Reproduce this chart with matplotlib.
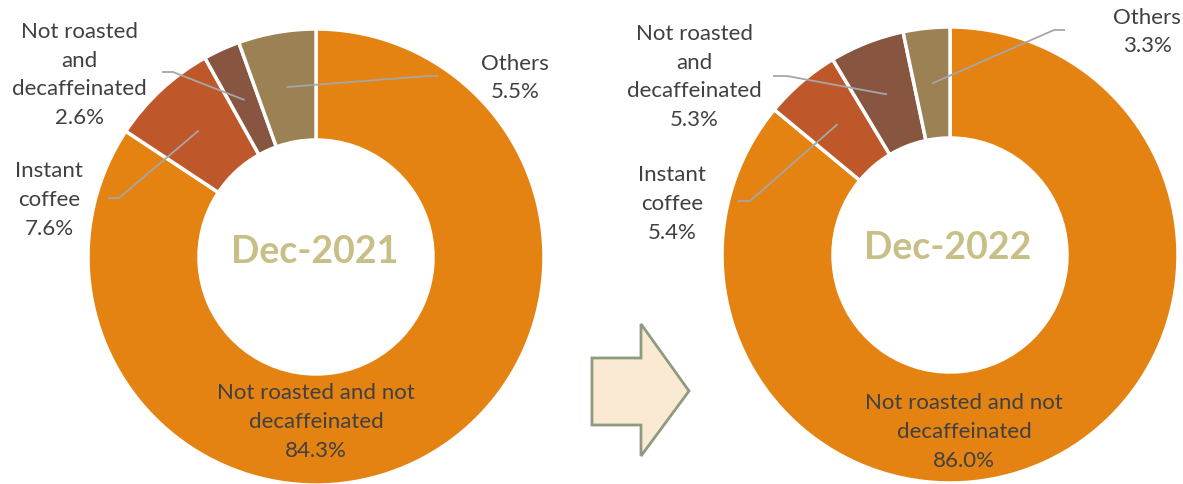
import numpy as np
import matplotlib

matplotlib.use("Agg")

import matplotlib.pyplot as plt
from matplotlib.patches import Polygon

plt.rcParams["font.family"] = ["Lato", "DejaVu Sans"]

W, H = 1183, 485

categories = ["Not roasted and not\ndecaffeinated", "Instant\ncoffee",
              "Not roasted\nand\ndecaffeinated", "Others"]
values_2021 = [84.3, 7.6, 2.6, 5.5]
values_2022 = [86.0, 5.4, 5.3, 3.3]
periods = ["Dec-2021", "Dec-2022"]

colors = ["#E48312", "#BE582B", "#875540", "#9C8155"]
text_color = "#404040"
leader_color = "#A6A6A6"
center_color = "#C8BF87"


def Y(y):
    # pixel row (from top) -> data y (from bottom)
    return H - y


fig = plt.figure(figsize=(W / 100, H / 100), dpi=100)
ax = fig.add_axes([0, 0, 1, 1])

# per chart: centre, main label centre, and for small slices (text pos, kink, line end)
layouts = [
    {
        "center": (316, 258),
        "title_pos": (315, 252),
        "main_pos": (316, 422),
        "small": [
            ((49, 200), (119, 199), (108, 199)),
            ((79, 75), (173, 73), (162, 73)),
            ((515, 78), (428, 77), (438, 77)),
        ],
    },
    {
        "center": (950, 256),
        "title_pos": (948, 248),
        "main_pos": (964, 432),
        "small": [
            ((672, 204), (750, 202), (738, 202)),
            ((694, 77), (787, 77), (773, 77)),
            ((1147, 32), (1054, 31), (1065, 31)),
        ],
    },
]

R = 228
hole = 117
fs = 16
ls = 1.55

for values, period, lay in zip([values_2021, values_2022], periods, layouts):
    cx, cy = lay["center"]
    wedges, _ = ax.pie(
        values,
        colors=colors,
        startangle=90,
        counterclock=False,
        radius=R,
        center=(cx, Y(cy)),
        wedgeprops=dict(width=R - hole, edgecolor="white", linewidth=2.5),
    )
    ax.text(lay["title_pos"][0], Y(lay["title_pos"][1]), period, ha="center", va="center",
            fontsize=27, fontweight="bold", color=center_color)
    mx, my = lay["main_pos"]
    ax.text(mx, Y(my), f"{categories[0]}\n{values[0]:.1f}%", ha="center", va="center",
            fontsize=fs, color=text_color, linespacing=ls)

    for i, (tpos, kink, end) in enumerate(lay["small"], start=1):
        w = wedges[i]
        mid = np.deg2rad((w.theta1 + w.theta2) / 2)
        rr = w.r - w.width / 2
        ax_x = w.center[0] + rr * np.cos(mid)
        ax_y = w.center[1] + rr * np.sin(mid)
        ax.plot([ax_x, kink[0], end[0]], [ax_y, Y(kink[1]), Y(end[1])],
                color=leader_color, lw=1.3, solid_capstyle="butt")
        ax.text(tpos[0], Y(tpos[1]), f"{categories[i]}\n{values[i]:.1f}%", ha="center",
                va="center", fontsize=fs, color=text_color, linespacing=ls)

# block arrow between the two charts
arrow_pts = [(592, 359), (641, 359), (641, 325), (689, 392), (641, 457), (641, 426), (592, 426)]
ax.add_patch(Polygon([(x, Y(y)) for x, y in arrow_pts], closed=True,
                     facecolor="#FBEAD3", edgecolor="#8E9B7E", linewidth=2))

ax.set_xlim(0, W)
ax.set_ylim(0, H)
ax.set_aspect("equal")
ax.axis("off")

fig.savefig("out.png", dpi=100)
